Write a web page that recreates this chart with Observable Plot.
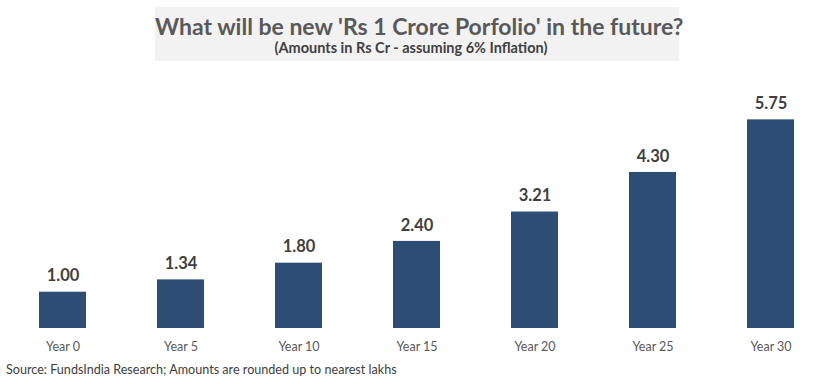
<!DOCTYPE html>
<html>
<head>
<meta charset="utf-8">
<script src="https://cdn.jsdelivr.net/npm/d3@7"></script>
<script src="https://cdn.jsdelivr.net/npm/@observablehq/plot@0.6"></script>
<style>
  html, body { margin: 0; padding: 0; background: #fff; }
  #wrap { position: relative; width: 838px; height: 384px; font-family: Lato, "Open Sans", sans-serif; }
  #titlebox { position: absolute; left: 155px; top: 7px; width: 524px; height: 54px; background: #f2f2f2; text-align: center; }
  #title { position: absolute; left: 0; width: 524px; top: 5px; font-size: 23px; font-weight: bold; color: #595959; white-space: nowrap; }
  #subtitle { position: absolute; left: -6px; width: 524px; top: 32px; font-size: 14.5px; font-weight: bold; color: #404040; white-space: nowrap; }
  #source { position: absolute; left: 6px; top: 362px; font-size: 12.6px; color: #404040; white-space: nowrap; }
  svg { position: absolute; left: 0; top: 0; }
</style>
</head>
<body>
<div id="wrap">
  <div id="chart"></div>
  <div id="titlebox">
    <div id="title">What will be new 'Rs 1 Crore Porfolio' in the future?</div>
    <div id="subtitle">(Amounts in Rs Cr - assuming 6% Inflation)</div>
  </div>
  <div id="source">Source: FundsIndia Research; Amounts are rounded up to nearest lakhs</div>
</div>
<script>
const years = ["Year 0", "Year 5", "Year 10", "Year 15", "Year 20", "Year 25", "Year 30"];
const values = [1.00, 1.34, 1.80, 2.40, 3.21, 4.30, 5.75];
const labels = ["1.00", "1.34", "1.80", "2.40", "3.21", "4.30", "5.75"];

const data = years.map((y, i) => ({year: y, value: values[i], label: labels[i]}));

const chart = Plot.plot({
  width: 838,
  height: 384,
  marginTop: 74,
  marginBottom: 56,
  marginLeft: 2,
  marginRight: 6,
  style: {fontFamily: "Lato, 'Open Sans', sans-serif", background: "transparent"},
  x: {domain: years, paddingInner: 0.6, paddingOuter: 0.3, label: null},
  y: {domain: [0, 7], axis: null},
  marks: [
    Plot.barY(data, {x: "year", y: "value", fill: "#2e4d74"}),
    Plot.ruleY([0], {x1: null, stroke: "#d9d9d9", strokeWidth: 1}),
    Plot.text(data, {x: "year", y: "value", text: "label", dy: -16, fontSize: 16.5, fontWeight: "bold", fill: "#404040"}),
    Plot.axisX({tickSize: 0, tickPadding: 14, fontSize: 12.5, color: "#595959", label: null})
  ]
});
document.getElementById("chart").appendChild(chart);
</script>
</body>
</html>
